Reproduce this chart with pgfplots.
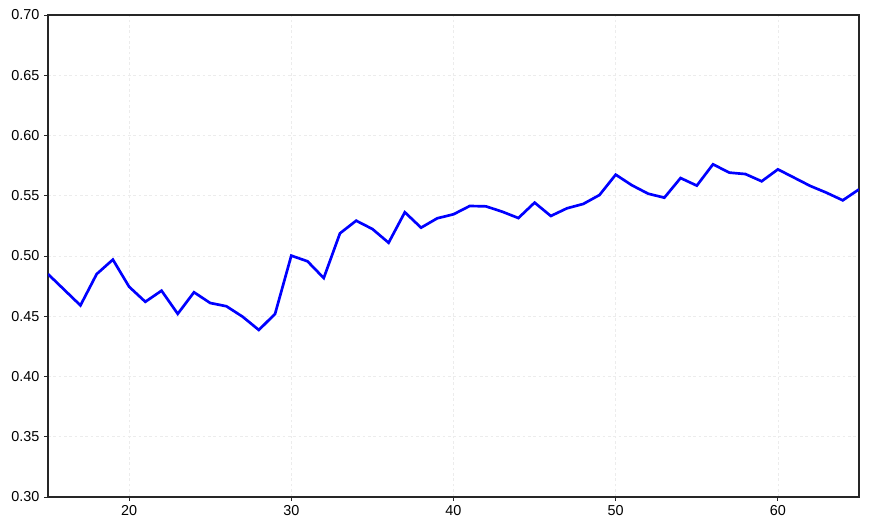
\documentclass[border=0pt]{standalone}
\usepackage{pgfplots}
\pgfplotsset{compat=1.18}
\usepackage{fontspec}
\setmainfont{Liberation Sans}
\begin{document}
\begin{tikzpicture}
\useasboundingbox (-36pt,-26.25pt) rectangle (615.75pt,372.75pt);
\begin{axis}[
  at={(0,0)}, anchor=south west,
  scale only axis,
  width=608.25pt, height=361.5pt,
  xmin=15, xmax=65, ymin=0.30, ymax=0.70,
  xtick={20,30,40,50,60},
  ytick={0.30,0.35,0.40,0.45,0.50,0.55,0.60,0.65,0.70},
  yticklabel style={/pgf/number format/.cd, fixed, fixed zerofill, precision=2},
  /pgf/number format/assume math mode=true,
  tick label style={font=\fontsize{10.8pt}{12pt}\selectfont},
  tick align=outside,
  major tick length=3pt,
  xtick pos=bottom, ytick pos=left,
  grid=major,
  major grid style={dash pattern=on 2pt off 2pt, gray!15, line width=0.4pt},
  axis line style={black!85, line width=0.8pt},
  tick style={black!85, line width=0.6pt},
]
\addplot[blue, line width=2pt, mark=none] coordinates {
(15,0.485) (16,0.472) (17,0.459) (18,0.485) (19,0.497) (20,0.4745)
(21,0.462) (22,0.4712) (23,0.452) (24,0.4699) (25,0.461) (26,0.4583)
(27,0.4496) (28,0.4386) (29,0.452) (30,0.5003) (31,0.4956) (32,0.4817)
(33,0.5188) (34,0.5293) (35,0.5224) (36,0.511) (37,0.5363) (38,0.5235)
(39,0.5313) (40,0.5346) (41,0.5415) (42,0.5412) (43,0.5368) (44,0.5315)
(45,0.5443) (46,0.5332) (47,0.5396) (48,0.5432) (49,0.5506) (50,0.5675)
(51,0.5587) (52,0.5517) (53,0.5484) (54,0.5647) (55,0.5584) (56,0.5761)
(57,0.5692) (58,0.5680) (59,0.5620) (60,0.5719) (61,0.565) (62,0.5581)
(63,0.5525) (64,0.5462) (65,0.5553)
};
\end{axis}
\end{tikzpicture}
\end{document}
